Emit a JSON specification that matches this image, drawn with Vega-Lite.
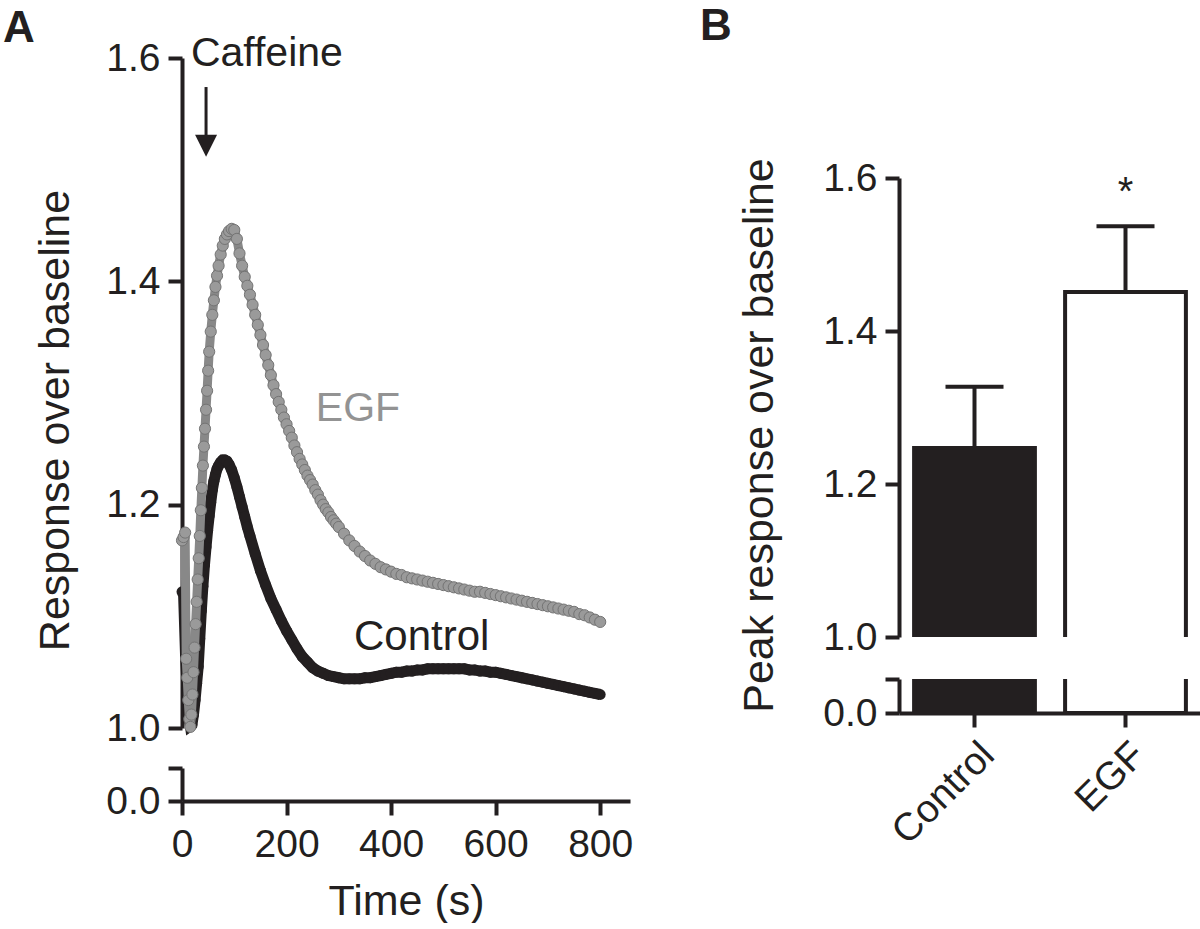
{
  "$schema": "https://vega.github.io/schema/vega-lite/v6.json",
  "background": "white",
  "padding": {"left": 3, "top": 5, "right": 0, "bottom": 0},
  "bounds": "flush",
  "spacing": 717,
  "datasets": {
    "control": [
      {"t":0,"v":1.122},{"t":3,"v":1.12},{"t":7,"v":1.062},{"t":10,"v":1.035},{"t":13,"v":1.012},{"t":16,"v":1.002},{"t":19,"v":1.003},{"t":22,"v":1.012},{"t":25,"v":1.025},{"t":28,"v":1.04},{"t":31,"v":1.055},{"t":34,"v":1.08},{"t":37,"v":1.105},{"t":40,"v":1.127},{"t":43,"v":1.146},{"t":46,"v":1.162},{"t":49,"v":1.177},{"t":52,"v":1.19},{"t":55,"v":1.202},{"t":58,"v":1.213},{"t":61,"v":1.221},{"t":64,"v":1.227},{"t":67,"v":1.232},{"t":70,"v":1.235},{"t":74,"v":1.238},{"t":78,"v":1.24},{"t":82,"v":1.24},{"t":86,"v":1.239},{"t":90,"v":1.236},{"t":95,"v":1.231},{"t":100,"v":1.224},{"t":105,"v":1.216},{"t":110,"v":1.207},{"t":115,"v":1.198},{"t":120,"v":1.189},{"t":125,"v":1.18},{"t":130,"v":1.172},{"t":140,"v":1.156},{"t":150,"v":1.141},{"t":160,"v":1.128},{"t":170,"v":1.116},{"t":180,"v":1.106},{"t":190,"v":1.096},{"t":200,"v":1.087},{"t":210,"v":1.079},{"t":220,"v":1.071},{"t":230,"v":1.064},{"t":240,"v":1.059},{"t":250,"v":1.054},{"t":260,"v":1.051},{"t":270,"v":1.049},{"t":280,"v":1.047},{"t":290,"v":1.046},{"t":300,"v":1.045},{"t":310,"v":1.044},{"t":320,"v":1.044},{"t":330,"v":1.044},{"t":340,"v":1.044},{"t":350,"v":1.045},{"t":360,"v":1.045},{"t":370,"v":1.046},{"t":380,"v":1.047},{"t":390,"v":1.048},{"t":400,"v":1.049},{"t":410,"v":1.05},{"t":420,"v":1.05},{"t":430,"v":1.051},{"t":440,"v":1.051},{"t":450,"v":1.052},{"t":460,"v":1.052},{"t":470,"v":1.053},{"t":480,"v":1.053},{"t":490,"v":1.053},{"t":500,"v":1.053},{"t":510,"v":1.053},{"t":520,"v":1.053},{"t":530,"v":1.053},{"t":540,"v":1.053},{"t":550,"v":1.052},{"t":560,"v":1.052},{"t":570,"v":1.051},{"t":580,"v":1.051},{"t":590,"v":1.05},{"t":600,"v":1.05},{"t":610,"v":1.049},{"t":620,"v":1.048},{"t":630,"v":1.047},{"t":640,"v":1.046},{"t":650,"v":1.045},{"t":660,"v":1.044},{"t":670,"v":1.043},{"t":680,"v":1.042},{"t":690,"v":1.041},{"t":700,"v":1.04},{"t":710,"v":1.039},{"t":720,"v":1.038},{"t":730,"v":1.037},{"t":740,"v":1.036},{"t":750,"v":1.035},{"t":760,"v":1.034},{"t":770,"v":1.033},{"t":780,"v":1.032},{"t":790,"v":1.031},{"t":800,"v":1.03}
    ],
    "egf": [
      {"t":0,"v":1.168},{"t":3,"v":1.171},{"t":6,"v":1.175},{"t":8,"v":1.062},{"t":10,"v":1.045},{"t":12,"v":1.025},{"t":14,"v":1.008},{"t":16,"v":1.001},{"t":18,"v":1.012},{"t":20,"v":1.03},{"t":22,"v":1.05},{"t":24,"v":1.072},{"t":26,"v":1.093},{"t":28,"v":1.113},{"t":30,"v":1.133},{"t":32,"v":1.152},{"t":34,"v":1.172},{"t":36,"v":1.195},{"t":38,"v":1.215},{"t":40,"v":1.235},{"t":42,"v":1.252},{"t":44,"v":1.268},{"t":46,"v":1.285},{"t":48,"v":1.302},{"t":50,"v":1.32},{"t":52,"v":1.337},{"t":55,"v":1.355},{"t":58,"v":1.37},{"t":61,"v":1.383},{"t":64,"v":1.395},{"t":67,"v":1.405},{"t":70,"v":1.414},{"t":74,"v":1.424},{"t":78,"v":1.432},{"t":82,"v":1.438},{"t":86,"v":1.442},{"t":90,"v":1.445},{"t":95,"v":1.447},{"t":100,"v":1.446},{"t":105,"v":1.438},{"t":110,"v":1.425},{"t":115,"v":1.414},{"t":120,"v":1.404},{"t":125,"v":1.396},{"t":130,"v":1.388},{"t":135,"v":1.379},{"t":140,"v":1.37},{"t":145,"v":1.361},{"t":150,"v":1.352},{"t":155,"v":1.343},{"t":160,"v":1.334},{"t":165,"v":1.325},{"t":170,"v":1.316},{"t":175,"v":1.307},{"t":180,"v":1.299},{"t":185,"v":1.292},{"t":190,"v":1.285},{"t":195,"v":1.278},{"t":200,"v":1.272},{"t":205,"v":1.266},{"t":210,"v":1.26},{"t":215,"v":1.253},{"t":220,"v":1.247},{"t":225,"v":1.241},{"t":230,"v":1.236},{"t":235,"v":1.231},{"t":240,"v":1.226},{"t":245,"v":1.222},{"t":250,"v":1.218},{"t":255,"v":1.213},{"t":260,"v":1.209},{"t":265,"v":1.204},{"t":270,"v":1.2},{"t":275,"v":1.196},{"t":280,"v":1.193},{"t":285,"v":1.189},{"t":290,"v":1.186},{"t":295,"v":1.183},{"t":300,"v":1.18},{"t":310,"v":1.174},{"t":320,"v":1.168},{"t":330,"v":1.163},{"t":340,"v":1.158},{"t":350,"v":1.154},{"t":360,"v":1.15},{"t":370,"v":1.147},{"t":380,"v":1.144},{"t":390,"v":1.142},{"t":400,"v":1.14},{"t":410,"v":1.138},{"t":420,"v":1.137},{"t":430,"v":1.135},{"t":440,"v":1.134},{"t":450,"v":1.133},{"t":460,"v":1.132},{"t":470,"v":1.131},{"t":480,"v":1.13},{"t":490,"v":1.129},{"t":500,"v":1.128},{"t":510,"v":1.127},{"t":520,"v":1.126},{"t":530,"v":1.125},{"t":540,"v":1.124},{"t":550,"v":1.123},{"t":560,"v":1.122},{"t":570,"v":1.122},{"t":580,"v":1.121},{"t":590,"v":1.12},{"t":600,"v":1.119},{"t":610,"v":1.118},{"t":620,"v":1.117},{"t":630,"v":1.116},{"t":640,"v":1.115},{"t":650,"v":1.114},{"t":660,"v":1.113},{"t":670,"v":1.112},{"t":680,"v":1.111},{"t":690,"v":1.11},{"t":700,"v":1.109},{"t":710,"v":1.108},{"t":720,"v":1.107},{"t":730,"v":1.106},{"t":740,"v":1.105},{"t":750,"v":1.104},{"t":760,"v":1.102},{"t":770,"v":1.101},{"t":780,"v":1.099},{"t":790,"v":1.097},{"t":800,"v":1.095}
    ],
    "peaks": [
      {"group":"Control","mean":1.247,"upper":1.327},
      {"group":"EGF","mean":1.451,"upper":1.537}
    ]
  },
  "hconcat": [
    {
      "bounds": "flush",
      "spacing": 40,
      "vconcat": [
        {
          "width": 448,
          "height": 670,
          "title": {"text": "A", "anchor": "start", "frame": "group", "fontSize": 44, "fontWeight": "bold", "font": "Liberation Sans", "color": "#231f20", "baseline": "alphabetic", "offset": -53, "dx": -179},
          "encoding": {
            "x": {"field": "t", "type": "quantitative", "scale": {"domain": [0, 857]}, "axis": null},
            "y": {"field": "v", "type": "quantitative", "scale": {"domain": [1.0, 1.6]},
                  "axis": {"values": [1.0, 1.2, 1.4, 1.6], "format": ".1f", "title": "Response over baseline", "titleY": 362, "titlePadding": 28, "labelPadding": 8}}
          },
          "layer": [
            {"data": {"name": "control"}, "mark": {"type": "line", "color": "#231f20", "strokeWidth": 11}},
            {"data": {"name": "control"}, "mark": {"type": "circle", "color": "#231f20", "size": 120, "opacity": 1}},
            {"data": {"name": "egf"}, "mark": {"type": "line", "color": "#888888", "strokeWidth": 9}},
            {"data": {"name": "egf"}, "mark": {"type": "circle", "fill": "#9a9a9a", "stroke": "#747474", "strokeWidth": 1, "size": 125, "opacity": 1}},
            {"data": {"values": [{"t": 17, "v": 1.593, "label": "Caffeine"}]}, "mark": {"type": "text", "align": "left", "baseline": "alphabetic", "fontSize": 41, "font": "Liberation Sans", "color": "#231f20"}, "encoding": {"text": {"field": "label"}}},
            {"data": {"values": [{"t": 46, "v": 1.574, "v2": 1.53}]}, "mark": {"type": "rule", "color": "#231f20", "strokeWidth": 3}, "encoding": {"y2": {"field": "v2"}}},
            {"data": {"values": [{"t": 46, "v": 1.5215}]}, "mark": {"type": "point", "shape": "M-1,-1L1,-1L0,1Z", "size": 484, "filled": true, "color": "#231f20", "opacity": 1}},
            {"data": {"values": [{"t": 256, "v": 1.275, "label": "EGF"}]}, "mark": {"type": "text", "align": "left", "baseline": "alphabetic", "fontSize": 41, "font": "Liberation Sans", "color": "#939393"}, "encoding": {"text": {"field": "label"}}},
            {"data": {"values": [{"t": 329, "v": 1.07, "label": "Control"}]}, "mark": {"type": "text", "align": "left", "baseline": "alphabetic", "fontSize": 42, "font": "Liberation Sans", "color": "#231f20"}, "encoding": {"text": {"field": "label"}}}
          ]
        },
        {
          "width": 448,
          "height": 33,
          "data": {"name": "control"},
          "mark": {"type": "point", "opacity": 0, "clip": true},
          "encoding": {
            "x": {"field": "t", "type": "quantitative", "scale": {"domain": [0, 857]},
                  "axis": {"values": [0, 200, 400, 600, 800], "title": "Time (s)", "labelFlush": false, "labelPadding": 10, "titlePadding": 16}},
            "y": {"field": "v", "type": "quantitative", "scale": {"domain": [0, 0.1]},
                  "axis": {"values": [0, 0.1], "labelExpr": "datum.value == 0 ? '0.0' : ''", "title": null, "labelPadding": 8}}
          }
        }
      ]
    },
    {
      "bounds": "flush",
      "spacing": 42,
      "vconcat": [
        {
          "width": 302,
          "height": 78,
          "title": {"text": "B", "anchor": "start", "frame": "group", "fontSize": 44, "fontWeight": "bold", "font": "Liberation Sans", "color": "#231f20", "baseline": "alphabetic", "offset": -26, "dx": -199},
          "data": {"values": [{"k": 1}]},
          "mark": {"type": "point", "opacity": 0}
        },
        {
          "width": 302,
          "height": 459,
          "data": {"name": "peaks"},
          "encoding": {
            "x": {"field": "group", "type": "nominal", "scale": {"paddingInner": 0.2, "paddingOuter": 0.1}, "axis": null}
          },
          "layer": [
            {"mark": {"type": "rule", "color": "#231f20", "strokeWidth": 4},
             "encoding": {"y": {"field": "mean", "type": "quantitative", "scale": {"domain": [1.0, 1.6]}, "axis": {"values": [1.0, 1.2, 1.4, 1.6], "format": ".1f", "title": "Peak response over baseline", "titleY": 257, "titlePadding": 41, "labelPadding": 8}}, "y2": {"field": "upper"}}},
            {"mark": {"type": "tick", "color": "#231f20", "thickness": 4, "size": 58, "opacity": 1},
             "encoding": {"y": {"field": "upper", "type": "quantitative", "scale": {"domain": [1.0, 1.6]}, "axis": {"values": [1.0, 1.2, 1.4, 1.6], "format": ".1f", "title": "Peak response over baseline", "titleY": 257, "titlePadding": 41, "labelPadding": 8}}}},
            {"mark": {"type": "bar", "clip": true, "stroke": "#231f20", "strokeWidth": 4},
             "encoding": {"y": {"field": "mean", "type": "quantitative", "scale": {"domain": [1.0, 1.6]}, "axis": {"values": [1.0, 1.2, 1.4, 1.6], "format": ".1f", "title": "Peak response over baseline", "titleY": 257, "titlePadding": 41, "labelPadding": 8}},
                          "y2": {"datum": 0},
                          "fill": {"field": "group", "type": "nominal", "scale": {"domain": ["Control", "EGF"], "range": ["#231f20", "#ffffff"]}, "legend": null}}},
            {"data": {"values": [{"group": "EGF", "mean": 1.565, "label": "*"}]},
             "mark": {"type": "text", "fontSize": 40, "font": "Liberation Sans", "baseline": "alphabetic", "color": "#231f20"},
             "encoding": {"y": {"field": "mean", "type": "quantitative", "scale": {"domain": [1.0, 1.6]}, "axis": {"values": [1.0, 1.2, 1.4, 1.6], "format": ".1f", "title": "Peak response over baseline", "titleY": 257, "titlePadding": 41, "labelPadding": 8}}, "text": {"field": "label"}}}
          ]
        },
        {
          "width": 302,
          "height": 34,
          "data": {"name": "peaks"},
          "mark": {"type": "bar", "clip": true, "stroke": "#231f20", "strokeWidth": 4},
          "encoding": {
            "x": {"field": "group", "type": "nominal", "scale": {"paddingInner": 0.2, "paddingOuter": 0.1},
                  "axis": {"title": null, "labelAngle": -45, "labelPadding": 8}},
            "y": {"field": "mean", "type": "quantitative", "scale": {"domain": [0, 0.1]},
                  "axis": {"values": [0, 0.1], "labelExpr": "datum.value == 0 ? '0.0' : ''", "title": null, "labelPadding": 8}},
            "y2": {"datum": 0},
            "fill": {"field": "group", "type": "nominal", "scale": {"domain": ["Control", "EGF"], "range": ["#231f20", "#ffffff"]}, "legend": null}
          }
        }
      ]
    }
  ],
  "config": {
    "view": {"stroke": null},
    "font": "Liberation Sans",
    "axis": {
      "grid": false,
      "domainColor": "#231f20", "domainWidth": 4,
      "tickColor": "#231f20", "tickWidth": 4, "tickSize": 14,
      "labelFont": "Liberation Sans", "labelFontSize": 39, "labelColor": "#231f20",
      "titleFont": "Liberation Sans", "titleFontSize": 43, "titleFontWeight": "normal", "titleColor": "#231f20"
    }
  }
}
